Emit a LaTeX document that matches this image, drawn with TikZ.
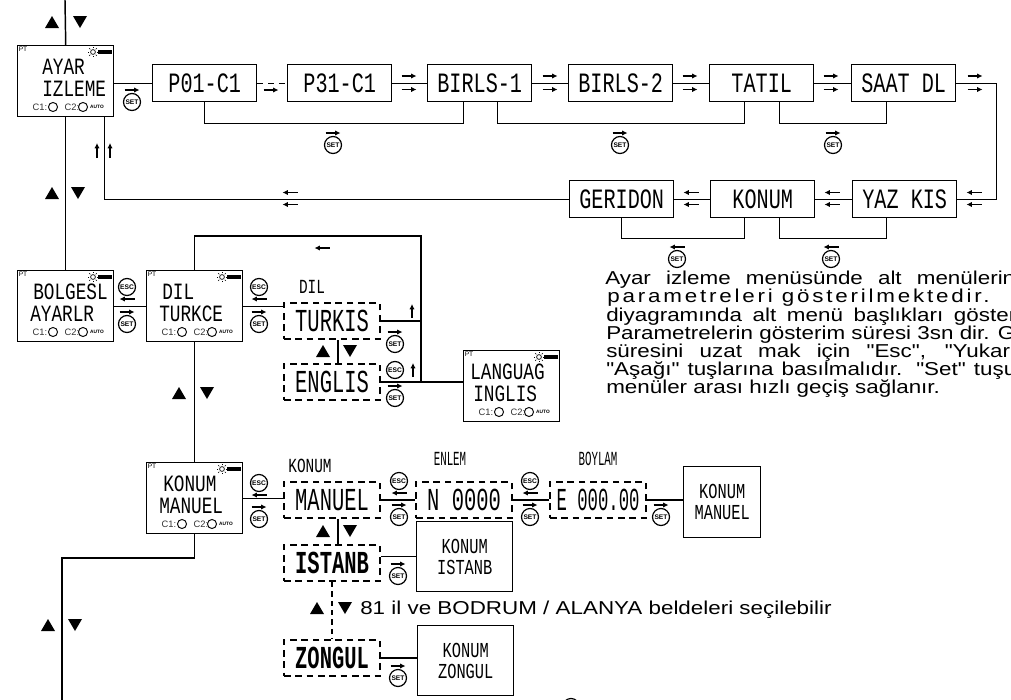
\documentclass[tikz,border=0pt]{standalone}
\usepackage{fontspec}
\setsansfont{Liberation Sans}
\newfontfamily\lcdf[FakeStretch=0.72]{Liberation Mono}
\newfontfamily\lcdv[FakeStretch=0.76]{Liberation Mono}
\newfontfamily\lcdw[FakeStretch=0.64]{Liberation Mono}
\newfontfamily\lcdn[FakeStretch=0.54]{Liberation Mono}
\newfontfamily\txtf[FakeStretch=1.2]{Liberation Sans}
\usetikzlibrary{arrows.meta,calc}
\newcommand\lcdrow{\lcdf\fontsize{21}{21}\selectfont}
\newcommand\lcddev{\lcdv\fontsize{17.5}{17.5}\selectfont}
\newcommand\lcdbig{\lcdw\fontsize{24}{24}\selectfont}
\newcommand\lcdbign{\lcdn\fontsize{24}{24}\selectfont}
\newcommand\lcdsm{\lcdf\fontsize{16}{15.5}\selectfont}
\newcommand\lcdlab{\lcdf\fontsize{15}{15}\selectfont}
\newcommand\lcdlabn{\lcdn\fontsize{15}{15}\selectfont}
\newcommand\partxt{\txtf\fontsize{14}{14}\selectfont}
\tikzset{
 ln/.style={line width=1.1pt},
 sarr/.style={line width=1pt,-{Latex[length=4pt,width=4pt]}},
 dev/.style={draw,line width=1.1pt,minimum width=72pt,minimum height=53.25pt,inner sep=0pt,anchor=north west},
 rowbox/.style={draw,line width=1.1pt,minimum width=78pt,minimum height=27.75pt,inner sep=0pt,anchor=north west,font=\lcdrow},
 dbox/.style={draw,line width=1.6pt,dash pattern=on 5pt off 3.5pt,minimum width=72pt,minimum height=27pt,inner sep=0pt,anchor=north west,font=\lcdbig},
 pbox/.style={draw,line width=1.1pt,minimum width=72pt,minimum height=52.5pt,inner sep=0pt,anchor=north west,align=center,font=\lcdsm},
 btn/.style={circle,draw,line width=0.9pt,minimum size=12.75pt,inner sep=0pt,font=\sffamily\bfseries\fontsize{5}{5}\selectfont},
 lcdl/.style={anchor=west,inner sep=0pt,font=\lcddev},
 lab/.style={inner sep=0pt,font=\lcdlab},
 labn/.style={inner sep=0pt,font=\lcdlabn},
 para/.style={anchor=base west,inner sep=0pt,font=\partxt},
 ctxt/.style={inner sep=0pt,font=\sffamily\fontsize{7}{7}\selectfont,text=black!80},
 autot/.style={inner sep=0pt,font=\sffamily\bfseries\fontsize{3.6}{3.6}\selectfont},
 tinyt/.style={inner sep=0pt,font=\sffamily\fontsize{5}{5}\selectfont},
}
\newcommand\upt[2]{\fill (#1-7,#2+6) -- (#1+7,#2+6) -- (#1,#2-6) -- cycle;}
\newcommand\dnt[2]{\fill (#1-7,#2-6) -- (#1+7,#2-6) -- (#1,#2+6) -- cycle;}
\newcommand\rarr[2]{\draw[sarr] (#1-7.5,#2) -- (#1+7.5,#2);}
\newcommand\larr[2]{\draw[sarr] (#1+7.5,#2) -- (#1-7.5,#2);}
\newcommand\setr[3]{\node[btn] (#1) at (#2,#3) {SET}; \rarr{#2}{#3-12}}
\newcommand\setl[3]{\node[btn] (#1) at (#2,#3) {SET}; \larr{#2}{#3-12}}
\newcommand\escl[3]{\node[btn] (#1) at (#2,#3) {ESC}; \larr{#2}{#3+12}}
\newcommand\devdeco[1]{%
 \begin{scope}[shift={(#1.north west)}]
  \node[tinyt,anchor=north west] (#1-pt) at (1.5,2) {PT};
  \draw[line width=0.5pt] (76,7) circle (1.8pt);
  \foreach \a in {0,45,...,315} {\draw[line width=0.4pt] (76,7) ++(\a:3.8) -- ++(\a:1.6);}
  \fill (81,4.5) rectangle (95,9);
  \node[ctxt] (#1-c1) at (23,62) {C1:};
  \draw[line width=0.7pt] (36,62) circle (3.4pt);
  \node[ctxt] (#1-c2) at (55,62) {C2:};
  \draw[line width=0.7pt] (66,62) circle (3.4pt);
  \node[autot] (#1-auto) at (80,62) {AUTO};
 \end{scope}}
\begin{document}
\begin{tikzpicture}[x=0.75pt,y=-0.75pt]
\fill[white] (0,0) rectangle (1011,700);
\useasboundingbox (0,0) rectangle (1011,700);

% ---------- device boxes ----------
\node[dev] (ayar) at (17,45) {};
\node[lcdl] (ayar1) at (42,67) {AYAR};
\node[lcdl] (ayar2) at (42,89) {IZLEME};
\devdeco{ayar}

\node[dev] (bolg) at (17,270) {};
\node[lcdl] (bolg1) at (33,292) {BOLGESL};
\node[lcdl] (bolg2) at (30,314) {AYARLR};
\devdeco{bolg}

\node[dev] (dilt) at (146,270) {};
\node[lcdl] (dilt1) at (162,292) {DIL};
\node[lcdl] (dilt2) at (159,314) {TURKCE};
\devdeco{dilt}

\node[dev] (kmd) at (146,462) {};
\node[lcdl] (kmd1) at (163,484) {KONUM};
\node[lcdl] (kmd2) at (159,506) {MANUEL};
\devdeco{kmd}

\node[dev] (lang) at (463,350) {};
\node[lcdl] (lang1) at (470,372) {LANGUAG};
\node[lcdl] (lang2) at (473,394) {INGLIS};
\devdeco{lang}

% ---------- top row ----------
\node[rowbox] (p01) at (152,64) {P01-C1};
\node[rowbox] (p31) at (287,64) {P31-C1};
\node[rowbox] (b1) at (427,64) {BIRLS-1};
\node[rowbox] (b2) at (568,64) {BIRLS-2};
\node[rowbox] (tat) at (709,64) {TATIL};
\node[rowbox] (saat) at (851,64) {SAAT DL};
% ---------- second row ----------
\node[rowbox] (geri) at (569,180) {GERIDON};
\node[rowbox] (kon) at (710,180) {KONUM};
\node[rowbox] (yaz) at (852,180) {YAZ KIS};

\draw[ln] (ayar.east |- p01.west) -- (p01.west);
\draw[ln,dash pattern=on 4.5pt off 3.5pt] (p01.east) -- (p31.west);
\draw[ln] (p31.east) -- (b1.west);
\draw[ln] (b1.east) -- (b2.west);
\draw[ln] (b2.east) -- (tat.west);
\draw[ln] (tat.east) -- (saat.west);
\draw[ln] (saat.east) -- ++(40,0) |- (yaz.east);
\draw[ln] (yaz.west) -- (kon.east);
\draw[ln] (kon.west) -- (geri.east);
\draw[ln] (geri.west) -| ([xshift=-7.5pt]ayar.south east);

\rarr{271}{90}
\foreach \xx in {409,550,690,831,975} {\rarr{\xx}{76}\rarr{\xx}{89.5}}
\foreach \xx in {691,832,974,290} {\larr{\xx}{192.5}\larr{\xx}{204.5}}

\draw[ln] (p01.south) -- ++(0,21) -| ([xshift=-12pt]b1.south);
\draw[ln] ([xshift=13.5pt]b1.south) -- ++(0,21) -| ([xshift=-12.75pt]tat.south);
\draw[ln] ([xshift=13.5pt]tat.south) -- ++(0,21) -| ([xshift=-12.75pt]saat.south);
\draw[ln] (geri.south) -- ++(0,20) -| ([xshift=-13.5pt]kon.south);
\draw[ln] ([xshift=12.75pt]kon.south) -- ++(0,20) -| ([xshift=-13.5pt]yaz.south);

\setr{sa}{132}{102}
\setr{sb}{333}{145}
\setr{sc}{620}{145}
\setr{sd}{833}{145}
\setl{se}{677}{259}
\setl{sf}{831}{259}

% ---------- left spine ----------
\coordinate (topin) at (65,0);
\draw[ln] (topin) -- (ayar.north);
\draw[ln] (ayar.south) -- (bolg.north);
\upt{52}{22}\dnt{80}{22}
\upt{52}{193}\dnt{78}{193}
\draw[sarr] (97,158) -- (97,143);
\draw[sarr] (110,158) -- (110,143);

% ---------- language ----------
\draw[ln] (bolg.east) -- (dilt.west);
\escl{ea}{127}{287}
\setr{sg}{127}{324}
\node[dbox] (turk) at (283,302) {TURKIS};
\node[dbox] (engl) at (283,363) {ENGLIS};
\node[lab] (dill) at (312,287) {DIL};
\draw[ln] (dilt.east) -- (dilt.east -| turk.west);
\escl{eb}{259}{287}
\setr{sh}{259}{324}
\coordinate (tr) at (421,236);
\draw[ln] (dilt.north) |- (tr) -- (tr |- engl.east);
\draw[ln] (turk.east) -- (turk.east -| tr);
\draw[ln] (engl.east) -- (engl.east -| lang.west);
\larr{322}{248}
\draw[sarr] (412,318) -- (412,304);
\setr{si}{395}{344}
\node[btn] (ec) at (395,370) {ESC};
\draw[sarr] (413,377) -- (413,363);
\setr{sj}{395}{398}
\draw[ln] ([xshift=4.5pt]turk.south) -- ([xshift=4.5pt]engl.north);
\upt{323}{351}\dnt{350}{351}

% ---------- konum ----------
\draw[ln] (dilt.south) -- (kmd.north);
\upt{179}{393}\dnt{207}{393}
\node[lab] (konl) at (310,466) {KONUM};
\node[dbox] (man) at (283,481) {MANUEL};
\node[dbox] (nbox) at (415,481) {N 0000};
\node[dbox,font=\lcdbign] (ebox) at (549,481) {E 000.00};
\node[labn] (enl) at (450,459) {ENLEM};
\node[labn] (boy) at (598,459) {BOYLAM};
\node[pbox,minimum width=57.75pt,minimum height=53.25pt] (kmp) at (683,466) {KONUM\\MANUEL};
\draw[ln] (kmd.east) -- (kmd.east -| man.west);
\draw[ln] (man.east) -- (nbox.west);
\draw[ln] (nbox.east) -- (ebox.west);
\draw[ln] (ebox.east) -- (ebox.east -| kmp.west);
\escl{ed}{259}{483}
\setr{sk}{259}{519}
\escl{ee}{399}{481}
\setr{sl}{399}{517}
\escl{ef}{530}{481}
\setr{sm}{530}{517}
\setr{sn}{661}{517}

\node[dbox,font=\lcdbig\bfseries] (ist) at (283,544) {ISTANB};
\node[pbox] (ki) at (416,521) {KONUM\\ISTANB};
\draw[ln] ([xshift=4.5pt]man.south) -- ([xshift=4.5pt]ist.north);
\upt{323}{531}\dnt{350}{531}
\draw[ln] (ki.west) -- (ki.west -| ist.east);
\setr{so}{398}{576}

\node[dbox,font=\lcdbig\bfseries] (zon) at (283,639) {ZONGUL};
\node[pbox] (kz) at (417,625) {KONUM\\ZONGUL};
\draw[ln,dash pattern=on 4pt off 3pt] (ist.south) -- (zon.north);
\upt{317}{608}\dnt{345}{608}
\node[para] (note) at (360,614) {81 il ve BODRUM / ALANYA beldeleri seçilebilir};
\draw[ln] (zon.east) -- (zon.east -| kz.west);
\setr{sp}{398}{678}

\node[btn] (cutb) at (571,707) {};

% ---------- lower left ----------
\coordinate (bl) at (62,558);
\coordinate (blend) at (62,700);
\draw[ln] (kmd.south) |- (bl) -- (blend);
\upt{48}{625}\dnt{75}{625}

% ---------- paragraph ----------
\node[para] (t1) at (605,284) {\makebox[307.5pt][s]{Ayar izleme menüsünde alt menülerin}};
\node[para] (t2) at (607,302.5) {\addfontfeature{LetterSpace=15}parametreleri gösterilmektedir.};
\node[para] (t3) at (606,321) {\makebox[307.5pt][s]{diyagramında alt menü başlıkları göster}};
\node[para] (t4) at (606,339) {Parametrelerin gösterim süresi 3sn dir. G};
\node[para] (t5) at (606,357) {\makebox[307.5pt][s]{süresini uzat mak için "Esc", "Yukarı}};
\node[para] (t6) at (606,375) {\makebox[307.5pt][s]{"Aşağı" tuşlarına basılmalıdır. "Set" tuşu}};
\node[para] (t7) at (606,393.5) {menüler arası hızlı geçiş sağlanır.};
\end{tikzpicture}
\end{document}
